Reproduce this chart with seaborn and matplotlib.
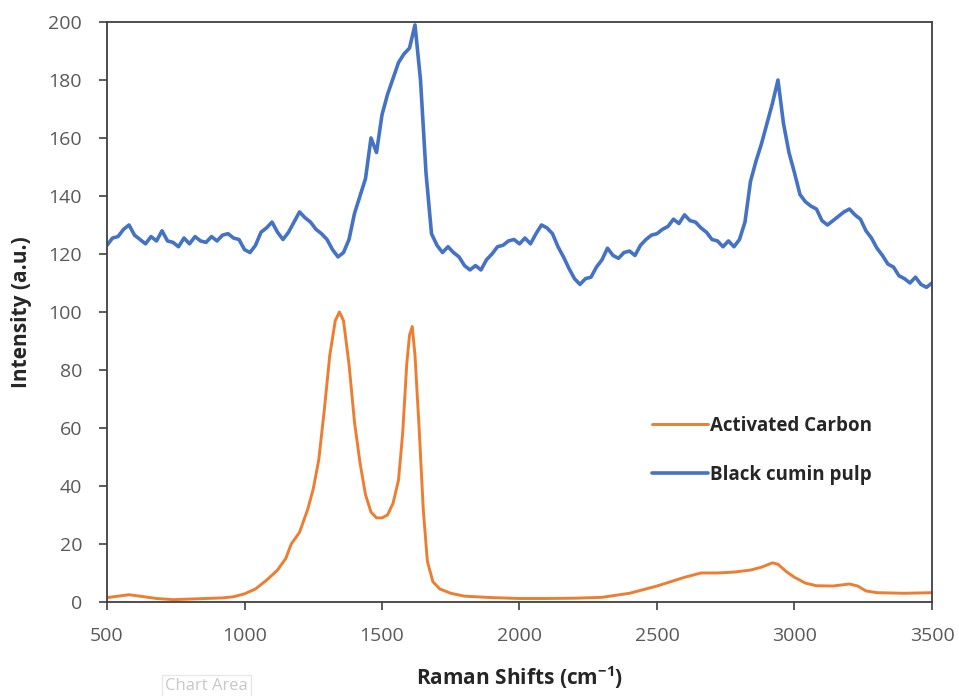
import numpy as np
import pandas as pd
import matplotlib
matplotlib.use("Agg")
import matplotlib.pyplot as plt
import seaborn as sns

# Black cumin pulp, sampled every 20 cm-1 from 500 to 3500
cumin_shift = np.arange(500, 3501, 20)
cumin_intensity = [
    123, 125.5, 126, 128.5, 130, 126.5, 125, 123.5, 126, 124.5,
    128, 124.5, 124, 122.5, 125.5, 123.5, 126, 124.5, 124, 126,
    124.5, 126.5, 127, 125.5, 125, 121.5, 120.5, 123, 127.5, 129,
    131, 127.5, 125, 127.5, 131, 134.5, 132.5, 131, 128.5, 127,
    125, 121.5, 119, 120.5, 125, 134, 140, 146, 160, 155,
    168, 175, 180.5, 186, 189, 191, 199, 180, 148, 127,
    123, 120.5, 122.5, 120.5, 119, 116, 114.5, 116, 114.5, 118,
    120, 122.5, 123, 124.5, 125, 123.5, 125.5, 123.5, 127, 130,
    129, 127, 122.5, 119, 115, 111.5, 109.5, 111.5, 112, 115.5,
    118, 122, 119.5, 118.5, 120.5, 121, 119.5, 123, 125, 126.5,
    127, 128.5, 129.5, 132, 130.5, 133.5, 131.5, 131, 129, 127.5,
    125, 124.5, 122.5, 124.5, 122.5, 125, 131, 145, 152, 158,
    165, 172, 180, 165, 155, 148, 140.5, 138, 136.5, 135.5,
    131.5, 130, 131.5, 133, 134.5, 135.5, 133.5, 132, 128, 125.5,
    122, 119.5, 116.5, 115.5, 112.5, 111.5, 110, 112, 109.5, 108.5,
    110,
]

# Activated carbon (smooth curve)
carbon_shift = [
    500, 540, 580, 620, 680, 740, 800, 860, 920, 960,
    1000, 1040, 1080, 1120, 1150, 1170, 1200, 1230, 1250, 1270,
    1290, 1310, 1330, 1345, 1360, 1380, 1400, 1420, 1440, 1460,
    1480, 1500, 1520, 1540, 1560, 1575, 1590, 1600, 1610, 1620,
    1635, 1650, 1665, 1685, 1710, 1750, 1800, 1900, 2000, 2100,
    2200, 2300, 2400, 2500, 2600, 2660, 2720, 2780, 2840, 2880,
    2920, 2940, 2970, 3000, 3040, 3080, 3140, 3200, 3230, 3260,
    3300, 3400, 3500,
]
carbon_intensity = [
    1.5, 2.0, 2.5, 2.0, 1.2, 0.8, 1.0, 1.2, 1.4, 1.8,
    2.8, 4.5, 7.5, 11, 15, 20, 24, 32, 39, 49,
    66, 85, 97, 100, 97, 82, 62, 48, 37, 31,
    29, 29, 30, 34, 42, 58, 82, 92, 95, 85,
    60, 32, 14, 7, 4.5, 3, 2, 1.5, 1.2, 1.2,
    1.3, 1.6, 3.0, 5.5, 8.5, 10, 10, 10.3, 11, 12,
    13.5, 13, 10.5, 8.5, 6.5, 5.6, 5.5, 6.2, 5.5, 3.8,
    3.2, 3.0, 3.2,
]

carbon = pd.DataFrame({"shift": carbon_shift, "intensity": carbon_intensity})
cumin = pd.DataFrame({"shift": cumin_shift, "intensity": cumin_intensity})

sns.set_style("white")
plt.rcParams["font.family"] = ["Open Sans", "DejaVu Sans"]
plt.rcParams["mathtext.fontset"] = "custom"
plt.rcParams["mathtext.rm"] = "Open Sans:bold"
plt.rcParams["mathtext.bf"] = "Open Sans:bold"

fig = plt.figure(figsize=(9.59, 6.96), dpi=100)
ax = fig.add_axes([0.1116, 0.1351, 0.8602, 0.8333])

sns.lineplot(data=carbon, x="shift", y="intensity", ax=ax, color="#ED7D31",
             linewidth=2.1, label="Activated Carbon")
sns.lineplot(data=cumin, x="shift", y="intensity", ax=ax, color="#4472C4",
             linewidth=2.6, label="Black cumin pulp")

ax.set_xlim(500, 3500)
ax.set_ylim(0, 200)
ax.set_xticks(range(500, 3501, 500))
ax.set_yticks(range(0, 201, 20))
ax.tick_params(axis="both", direction="out", length=6, width=1.2, color="#404040",
               labelsize=14, labelcolor="#595959", bottom=True, left=True, pad=12)

for s in ax.spines.values():
    s.set_color("#404040")
    s.set_linewidth(1.3)

ax.set_xlabel("Raman Shifts (cm$^{\\mathrm{-1}}$)", fontsize=15, fontweight="bold", labelpad=14)
ax.set_ylabel("Intensity (a.u.)", fontsize=15, fontweight="bold", labelpad=12)

leg = ax.legend(loc="upper left", bbox_to_anchor=(0.64, 0.35), frameon=False,
                handlelength=3.0, handletextpad=0.1, labelspacing=1.55,
                prop={"weight": "bold", "size": 13.5})

fig.text(0.172, 2 / 696, "Chart Area", va="bottom", ha="left",
         fontsize=12, color="#c8c8c8",
         bbox=dict(facecolor="white", edgecolor="#e8e8e8", pad=2))

fig.savefig("out.png", dpi=100)
